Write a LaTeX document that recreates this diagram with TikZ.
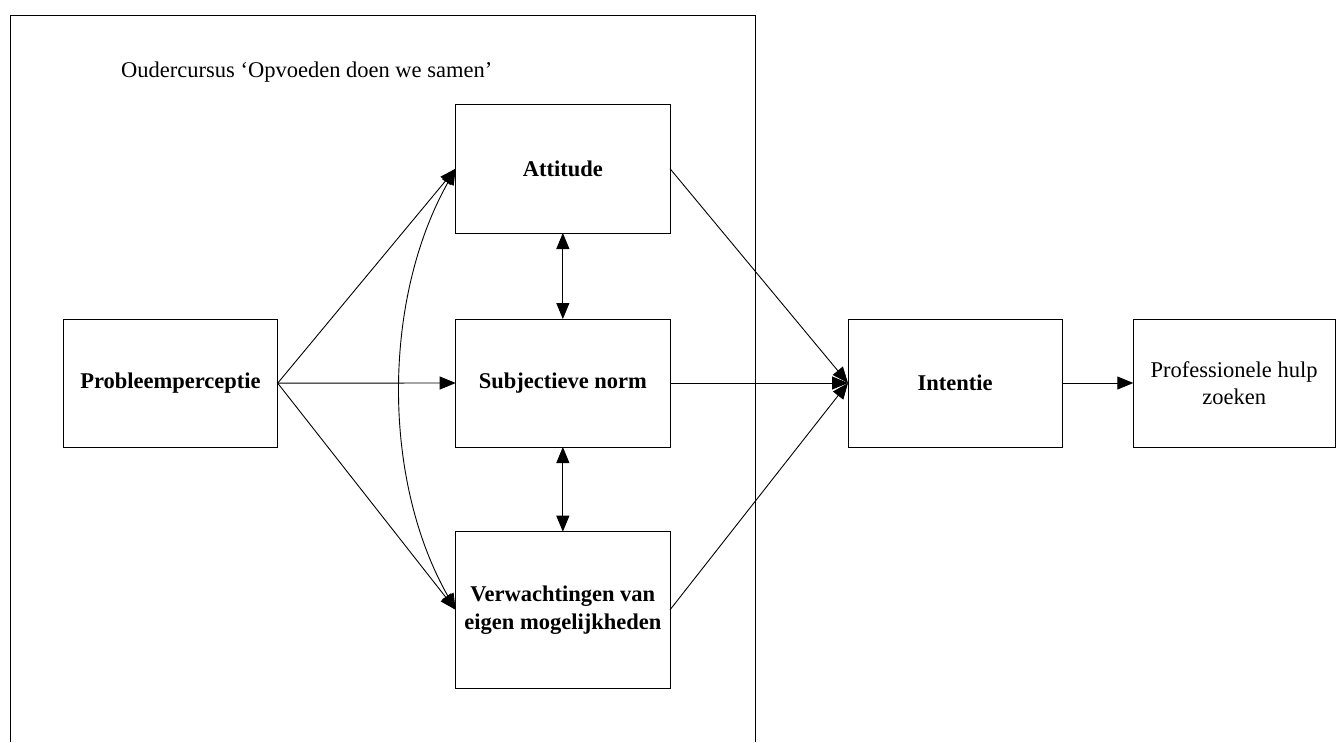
\documentclass[tikz,border=0pt]{standalone}
\usepackage{fontspec}
\setmainfont{Liberation Serif}
\usetikzlibrary{arrows.meta}
\begin{document}
\begin{tikzpicture}[x=1pt,y=-1pt,
  box/.style={draw=black,line width=1pt,inner sep=0pt,outer sep=0pt,align=center,
    font=\fontsize{22.5}{27}\selectfont},
  bbox/.style={box,font=\fontsize{22.5}{28}\selectfont\bfseries},
  conn/.style={line width=0.9pt,-{Triangle[length=16pt,width=13pt]}},
  dconn/.style={line width=0.9pt,{Triangle[length=16pt,width=13pt]}-{Triangle[length=16pt,width=13pt]}}]
\useasboundingbox (0,0) rectangle (1336,742);
\fill[white] (0,0) rectangle (1336,742);
% course frame (open at the bottom)
\draw[line width=1pt] (10,742) -- (10,15.5) -- (755.7,15.5) -- (755.7,742);
\node[anchor=base west,inner sep=0pt,font=\fontsize{22.5}{27}\selectfont] (title) at (121,77) {Oudercursus ‘Opvoeden doen we samen’};
% boxes
\node[bbox,minimum width=214.4pt,minimum height=128.3pt] (prob) at (170.5,383.15) {Probleemperceptie};
\node[bbox,minimum width=214.3pt,minimum height=128.7pt] (att) at (562.85,168.65) {Attitude};
\node[bbox,minimum width=214.3pt,minimum height=128pt] (subj) at (562.85,383) {Subjectieve norm};
\node[bbox,minimum width=214.3pt,minimum height=156.3pt] (verw) at (562.85,609.85) {Verwachtingen van\\eigen mogelijkheden};
\node[bbox,minimum width=214pt,minimum height=128pt] (int) at (955,383) {Intentie};
\node[box,minimum width=201.7pt,minimum height=128pt] (prof) at (1234.15,383) {Professionele hulp\\zoeken};
% connectors
\draw[conn] (prob.east) -- (att.west);
\draw[conn] (prob.east) -- (subj.west);
\draw[conn] (prob.east) -- (verw.west);
\draw[dconn] (att.west) .. controls (382,300) and (382,480) .. (verw.west);
\draw[dconn] (att.south) -- (subj.north);
\draw[dconn] (subj.south) -- (verw.north);
\draw[conn] (att.east) -- (int.west);
\draw[conn] (subj.east) -- (int.west);
\draw[conn] (verw.east) -- (int.west);
\draw[conn] (int.east) -- (prof.west);
\end{tikzpicture}
\end{document}
